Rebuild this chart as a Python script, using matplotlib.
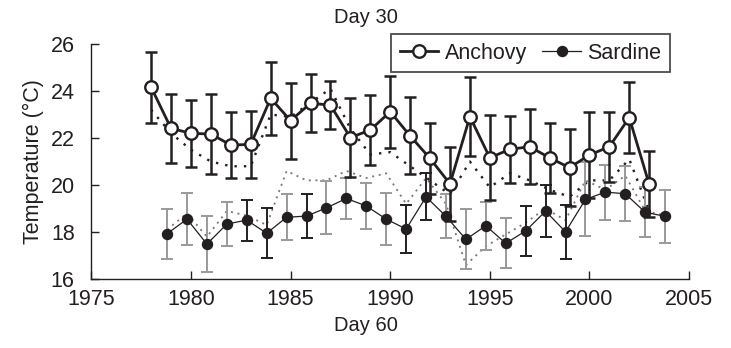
import matplotlib
matplotlib.use("Agg")
import matplotlib.pyplot as plt
from matplotlib.lines import Line2D

plt.rcParams['font.family'] = ['Liberation Sans', 'DejaVu Sans']

# Anchovy, day 30 (open circles) with day 60 (black dotted)
anchovy_years = list(range(1978, 2004))
anchovy_mean = [24.16, 22.41, 22.20, 22.17, 21.70, 21.73, 23.69, 22.74, 23.48, 23.40,
                22.02, 22.34, 23.12, 22.09, 21.13, 20.05, 22.91, 21.16, 21.52, 21.63,
                21.16, 20.74, 21.28, 21.63, 22.87, 20.03]
anchovy_err = [1.50, 1.47, 1.42, 1.70, 1.40, 1.44, 1.56, 1.62, 1.24, 1.03,
               1.69, 1.49, 1.53, 1.64, 1.50, 1.57, 1.69, 1.81, 1.43, 1.60,
               1.50, 1.63, 1.82, 1.49, 1.52, 1.40]
anchovy_day60 = [23.2, 22.2, 21.5, 21.0, 20.8, 20.8, 23.0, 22.9, 23.5, 24.1,
                 22.4, 21.3, 21.4, 20.8, 20.2, 19.6, 21.0, 19.9, 20.5, 20.2,
                 19.8, 19.5, 20.2, 20.2, 21.1, 18.9]

# Sardine, day 30 (filled circles) with day 60 (grey dotted)
sardine_years = [y + 0.8 for y in range(1978, 2004)]
sardine_mean = [17.93, 18.55, 17.49, 18.34, 18.51, 17.95, 18.63, 18.68, 19.03, 19.43,
                19.11, 18.55, 18.13, 19.50, 18.67, 17.69, 18.27, 17.52, 18.05, 18.89,
                18.01, 19.39, 19.70, 19.63, 18.84, 18.67]
sardine_err = [1.07, 1.10, 1.19, 0.92, 0.87, 1.07, 0.97, 0.93, 1.13, 0.87,
               0.97, 1.12, 1.03, 1.00, 0.94, 1.28, 1.03, 1.06, 1.08, 1.11,
               1.15, 1.57, 1.17, 1.17, 1.06, 1.12]
sardine_day60 = [18.1, 18.8, 17.8, 18.9, 18.7, 18.3, 20.6, 20.2, 20.2, 20.6,
                 20.3, 20.5, 19.2, 20.3, 19.2, 16.6, 17.4, 17.9, 18.4, 19.0,
                 18.5, 20.2, 19.8, 20.4, 18.9, 18.7]
# error-bar shade per sardine year: 'd' dark, 'g' grey
sardine_bar_shade = ['g', 'g', 'g', 'g', 'd', 'd', 'g', 'd', 'g', 'g',
                     'g', 'g', 'd', 'd', 'g', 'g', 'g', 'g', 'd', 'd',
                     'd', 'g', 'g', 'g', 'g', 'g']

x_ticks = [1975, 1980, 1985, 1990, 1995, 2000, 2005]
y_ticks = [16, 18, 20, 22, 24, 26]

INK = '#231f20'
GREY = '#999999'

fig = plt.figure(figsize=(7.31, 3.48), dpi=100)
ax = fig.add_axes([0.125, 0.198, 0.8176, 0.6756])

# day 60 dotted lines
ax.plot(sardine_years, sardine_day60, color='#777777', lw=1.3,
        linestyle=(0, (1.1, 2.6)), zorder=1)
ax.plot(anchovy_years, anchovy_day60, color=INK, lw=1.7,
        linestyle=(0, (1, 3.0)), zorder=2)

# sardine error bars
for x, m, e, s in zip(sardine_years, sardine_mean, sardine_err, sardine_bar_shade):
    c = INK if s == 'd' else GREY
    ax.errorbar([x], [m], yerr=[e], fmt='none', ecolor=c, elinewidth=1.4,
                capsize=4.2, capthick=1.4, zorder=3)
ax.plot(sardine_years, sardine_mean, color=INK, lw=0.9, marker='o', ms=7.2,
        mfc=INK, mec=INK, zorder=4)

# anchovy
ax.errorbar(anchovy_years, anchovy_mean, yerr=anchovy_err, fmt='none', ecolor=INK,
            elinewidth=1.8, capsize=4.2, capthick=1.8, zorder=5)
ax.plot(anchovy_years, anchovy_mean, color=INK, lw=2.0, marker='o', ms=9,
        mfc='white', mec=INK, mew=1.7, zorder=6)

ax.set_xlim(1975, 2005)
ax.set_ylim(16, 26)
ax.set_xticks(x_ticks)
ax.set_yticks(y_ticks)
for side in ('top', 'right'):
    ax.spines[side].set_visible(False)
for side in ('left', 'bottom'):
    ax.spines[side].set_color(INK)
    ax.spines[side].set_linewidth(1.0)
ax.tick_params(direction='in', length=5.5, width=1.0, color=INK,
               labelsize=15.5, labelcolor=INK)
ax.tick_params(axis='y', pad=12)
ax.tick_params(axis='x', pad=7)
ax.set_ylabel('Temperature (\u00b0C)', fontsize=15.5, color=INK, labelpad=5)

handles = [
    Line2D([], [], color=INK, lw=2.0, marker='o', ms=9, mfc='white', mec=INK, mew=1.7),
    Line2D([], [], color=INK, lw=0.9, marker='o', ms=7.2, mfc=INK, mec=INK),
]
leg = fig.legend(handles, ['Anchovy', 'Sardine'], loc='upper right',
                 bbox_to_anchor=(0.9166, 0.9023), ncol=2, fontsize=15.5,
                 frameon=True, fancybox=False, handlelength=1.8,
                 handletextpad=0.3, columnspacing=0.7, borderpad=0.4,
                 borderaxespad=0)
leg.get_frame().set_edgecolor(INK)
leg.get_frame().set_linewidth(1.3)
for t in leg.get_texts():
    t.set_color(INK)

fig.text(0.5, 0.95, 'Day 30', ha='center', va='center', fontsize=14.5, color=INK)
fig.text(0.5, 0.064, 'Day 60', ha='center', va='center', fontsize=14.5, color=INK)

fig.savefig('out.png', dpi=100)
